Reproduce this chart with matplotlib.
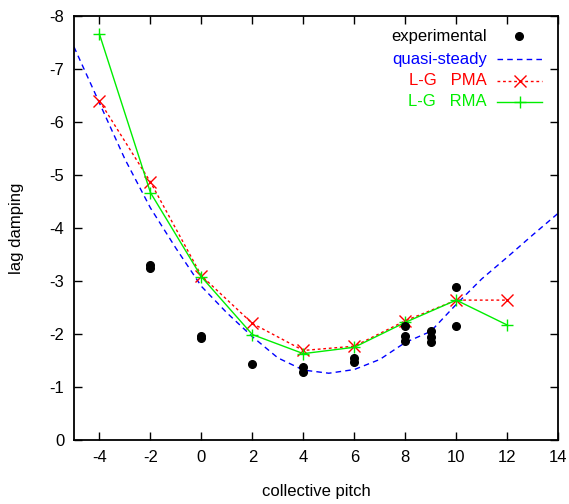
import matplotlib
matplotlib.use("Agg")
import matplotlib.pyplot as plt

plt.rcParams['font.family'] = ['Liberation Sans', 'DejaVu Sans']
plt.rcParams['axes.unicode_minus'] = False

# experimental points
exp_x = [-2, -2, 0, 0, 2, 4, 4, 6, 6, 8, 8, 8, 9, 9, 9, 10, 10]
exp_y = [-3.25, -3.31, -1.92, -1.97, -1.43, -1.29, -1.37, -1.47, -1.55,
         -2.15, -1.97, -1.87, -2.06, -1.95, -1.85, -2.88, -2.16]

# quasi-steady curve
qs_x = [-5, -4, -3, -2, -1, 0, 1, 2, 3, 4, 5, 6, 7, 8, 9, 10, 11, 12, 13, 14]
qs_y = [-7.42, -6.36, -5.3, -4.38, -3.62, -2.9, -2.4, -1.95, -1.55, -1.32,
        -1.26, -1.33, -1.52, -1.84, -2.05, -2.56, -3.04, -3.45, -3.87, -4.28]

# L-G PMA
pma_x = [-4, -2, 0, 2, 4, 6, 8, 10, 12]
pma_y = [-6.40, -4.87, -3.10, -2.20, -1.69, -1.77, -2.25, -2.64, -2.64]

# L-G RMA
rma_x = [-4, -2, 0, 2, 4, 6, 8, 10, 12]
rma_y = [-7.66, -4.67, -3.08, -1.99, -1.63, -1.75, -2.22, -2.64, -2.17]

xticks = [-4, -2, 0, 2, 4, 6, 8, 10, 12, 14]
yticks = [0, -1, -2, -3, -4, -5, -6, -7, -8]

fig = plt.figure(figsize=(5.69, 5.04), dpi=100)
ax = fig.add_axes([0.130, 0.127, 0.851, 0.841])

ax.plot(qs_x, qs_y, color='blue', linestyle=(0, (4, 3)), linewidth=1.0)
ax.plot(pma_x, pma_y, color='red', linestyle=(0, (2, 2)), linewidth=1.0,
        marker='x', markersize=8, markeredgewidth=1.0)
ax.plot(rma_x, rma_y, color='#00ee00', linestyle='-', linewidth=1.0,
        marker='+', markersize=9, markeredgewidth=1.0)
ax.plot(exp_x, exp_y, linestyle='none', marker='o', color='black', markersize=5.5)

ax.set_xlim(-5, 14)
ax.set_ylim(0, -8)
ax.set_xticks(xticks)
ax.set_yticks(yticks)
ax.tick_params(direction='in', length=6, width=1, top=True, right=True,
               labelsize=12, pad=7)
for s in ax.spines.values():
    s.set_linewidth(1.3)

ax.set_xlabel('collective pitch', fontsize=12, labelpad=14)
ax.set_ylabel('lag damping', fontsize=12, labelpad=18)

# key, gnuplot style
labels = ['experimental', 'quasi-steady', 'L-G   PMA', 'L-G   RMA']
colors = ['black', 'blue', 'red', '#00ee00']
rows = [0.952, 0.898, 0.848, 0.798]
tx = 0.853
x0, x1 = 0.874, 0.967
for lab, col, yy in zip(labels, colors, rows):
    ax.text(tx, yy, lab, color=col, fontsize=12, ha='right', va='center',
            transform=ax.transAxes)
ax.plot([0.92], [rows[0]], marker='o', color='black', markersize=5.5,
        transform=ax.transAxes, clip_on=False)
ax.plot([x0, x1], [rows[1]] * 2, color='blue', linestyle=(0, (4, 3)),
        linewidth=1.0, transform=ax.transAxes)
ax.plot([x0, x1], [rows[2]] * 2, color='red', linestyle=(0, (2, 2)),
        linewidth=1.0, transform=ax.transAxes)
ax.plot([(x0 + x1) / 2], [rows[2]], marker='x', color='red', markersize=8,
        transform=ax.transAxes)
ax.plot([x0, x1], [rows[3]] * 2, color='#00ee00', linewidth=1.0,
        transform=ax.transAxes)
ax.plot([(x0 + x1) / 2], [rows[3]], marker='+', color='#00ee00', markersize=9,
        transform=ax.transAxes)

fig.savefig('out.png', dpi=100)
